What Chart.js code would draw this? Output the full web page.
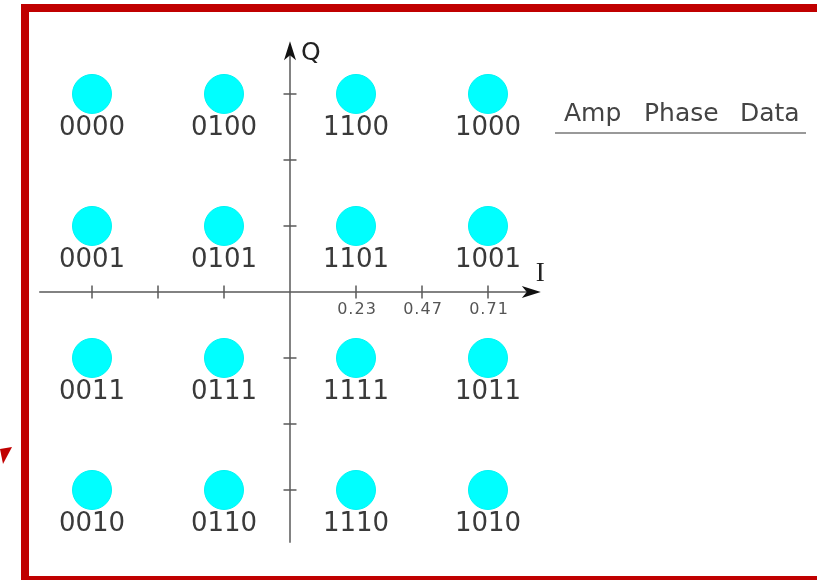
<!DOCTYPE html>
<html>
<head>
<meta charset="utf-8">
<script src="https://cdn.jsdelivr.net/npm/chart.js@4.4.1/dist/chart.umd.min.js"></script>
<style>
  html, body { margin: 0; padding: 0; background: #fff; }
  canvas { display: block; }
</style>
</head>
<body>
<canvas id="chart" width="817" height="580"></canvas>
<script>
// 16-QAM constellation, values in tick units
const iLevels = [-3, -1, 1, 3];
const qLevels = [3, 1, -1, -3];
const symbolBits = [
    ['0000', '0100', '1100', '1000'],
    ['0001', '0101', '1101', '1001'],
    ['0011', '0111', '1111', '1011'],
    ['0010', '0110', '1110', '1010'],
];
const tickSteps = [1, 2, 3];
const tickLabels = ['0.23', '0.47', '0.71'];
const tableHeaders = ['Amp', 'Phase', 'Data'];

let points = [];
let bits = [];
qLevels.forEach((q, r) => {
    iLevels.forEach((i, c) => {
        points.push({x: i, y: q});
        bits.push(symbolBits[r][c]);
    });
});

const axisReach = 3.8;

function arrowHead(ctx, x, y, dir) {
    // stealth arrow, dir: 'up' or 'right'
    ctx.save();
    ctx.translate(x, y);
    if (dir === 'right') ctx.rotate(Math.PI / 2);
    ctx.beginPath();
    ctx.moveTo(0, 0);
    ctx.lineTo(-6, 19);
    ctx.lineTo(0, 14);
    ctx.lineTo(6, 19);
    ctx.closePath();
    ctx.fillStyle = '#111';
    ctx.fill();
    ctx.restore();
}

const backdrop = {
    id: 'backdrop',
    beforeDraw(chart) {
        const ctx = chart.ctx;
        ctx.save();
        ctx.fillStyle = '#fff';
        ctx.fillRect(0, 0, chart.width, chart.height);
        // red frame
        ctx.strokeStyle = '#c00000';
        ctx.lineWidth = 8;
        ctx.strokeRect(25, 8, 900, 572);
        // little red pointer outside the frame
        ctx.fillStyle = '#c00000';
        ctx.beginPath();
        ctx.moveTo(0, 449);
        ctx.lineTo(12, 447);
        ctx.lineTo(3, 464);
        ctx.closePath();
        ctx.fill();

        // axes
        const xs = chart.scales.x, ys = chart.scales.y;
        const x0 = xs.getPixelForValue(0), y0 = ys.getPixelForValue(0);
        const left = xs.getPixelForValue(-axisReach), right = xs.getPixelForValue(axisReach);
        const top = ys.getPixelForValue(axisReach), bottom = ys.getPixelForValue(-axisReach);
        ctx.strokeStyle = '#5a5a5a';
        ctx.lineWidth = 1.5;
        ctx.beginPath();
        ctx.moveTo(left, y0); ctx.lineTo(right - 8, y0);
        ctx.moveTo(x0, bottom); ctx.lineTo(x0, top + 8);
        ctx.stroke();
        arrowHead(ctx, right, y0, 'right');
        arrowHead(ctx, x0, top, 'up');

        // tick marks both sides
        ctx.beginPath();
        tickSteps.forEach(t => {
            [t, -t].forEach(v => {
                const px = xs.getPixelForValue(v);
                ctx.moveTo(px, y0 - 6.5); ctx.lineTo(px, y0 + 6.5);
                const py = ys.getPixelForValue(v);
                ctx.moveTo(x0 - 6.5, py); ctx.lineTo(x0 + 6.5, py);
            });
        });
        ctx.stroke();

        // tick labels
        ctx.fillStyle = '#555';
        ctx.font = '16px "DejaVu Sans"';
        ctx.letterSpacing = '1px';
        ctx.textAlign = 'center';
        ctx.textBaseline = 'middle';
        tickSteps.forEach((t, k) => {
            ctx.fillText(tickLabels[k], xs.getPixelForValue(t) + 1, y0 + 18);
        });
        ctx.letterSpacing = '0px';

        // axis names
        ctx.fillStyle = '#222';
        ctx.font = '25px "DejaVu Sans"';
        ctx.textAlign = 'left';
        ctx.fillText('Q', x0 + 11, top + 12);
        ctx.font = '27px "Liberation Serif"';
        ctx.fillText('I', right - 5, y0 - 18);

        // table header
        ctx.fillStyle = '#444';
        ctx.font = '25px "DejaVu Sans"';
        ctx.textBaseline = 'alphabetic';
        const headX = [564, 644, 740];
        tableHeaders.forEach((h, k) => ctx.fillText(h, headX[k], 121));
        ctx.strokeStyle = '#777';
        ctx.lineWidth = 1.5;
        ctx.beginPath();
        ctx.moveTo(555, 133); ctx.lineTo(806, 133);
        ctx.stroke();
        ctx.restore();
    },
    afterDatasetsDraw(chart) {
        const ctx = chart.ctx;
        const meta = chart.getDatasetMeta(0);
        ctx.save();
        ctx.fillStyle = '#3a3a3a';
        ctx.font = '26px "DejaVu Sans"';
        ctx.textAlign = 'center';
        ctx.textBaseline = 'middle';
        meta.data.forEach((pt, k) => {
            ctx.fillText(bits[k], pt.x, pt.y + 34);
        });
        ctx.restore();
    }
};

new Chart(document.getElementById('chart'), {
    type: 'scatter',
    data: {
        datasets: [{
            data: points,
            pointRadius: 19.5,
            pointBackgroundColor: '#00ffff',
            pointBorderColor: '#00f4f4',
            pointBorderWidth: 1,
            clip: false,
        }]
    },
    options: {
        responsive: false,
        animation: false,
        layout: {padding: 0, autoPadding: false},
        plugins: {legend: {display: false}, tooltip: {enabled: false}},
        scales: {
            x: {type: 'linear', display: false, min: -4.394, max: 7.985},
            y: {type: 'linear', display: false, min: -4.364, max: 4.424},
        }
    },
    plugins: [backdrop]
});
</script>
</body>
</html>
